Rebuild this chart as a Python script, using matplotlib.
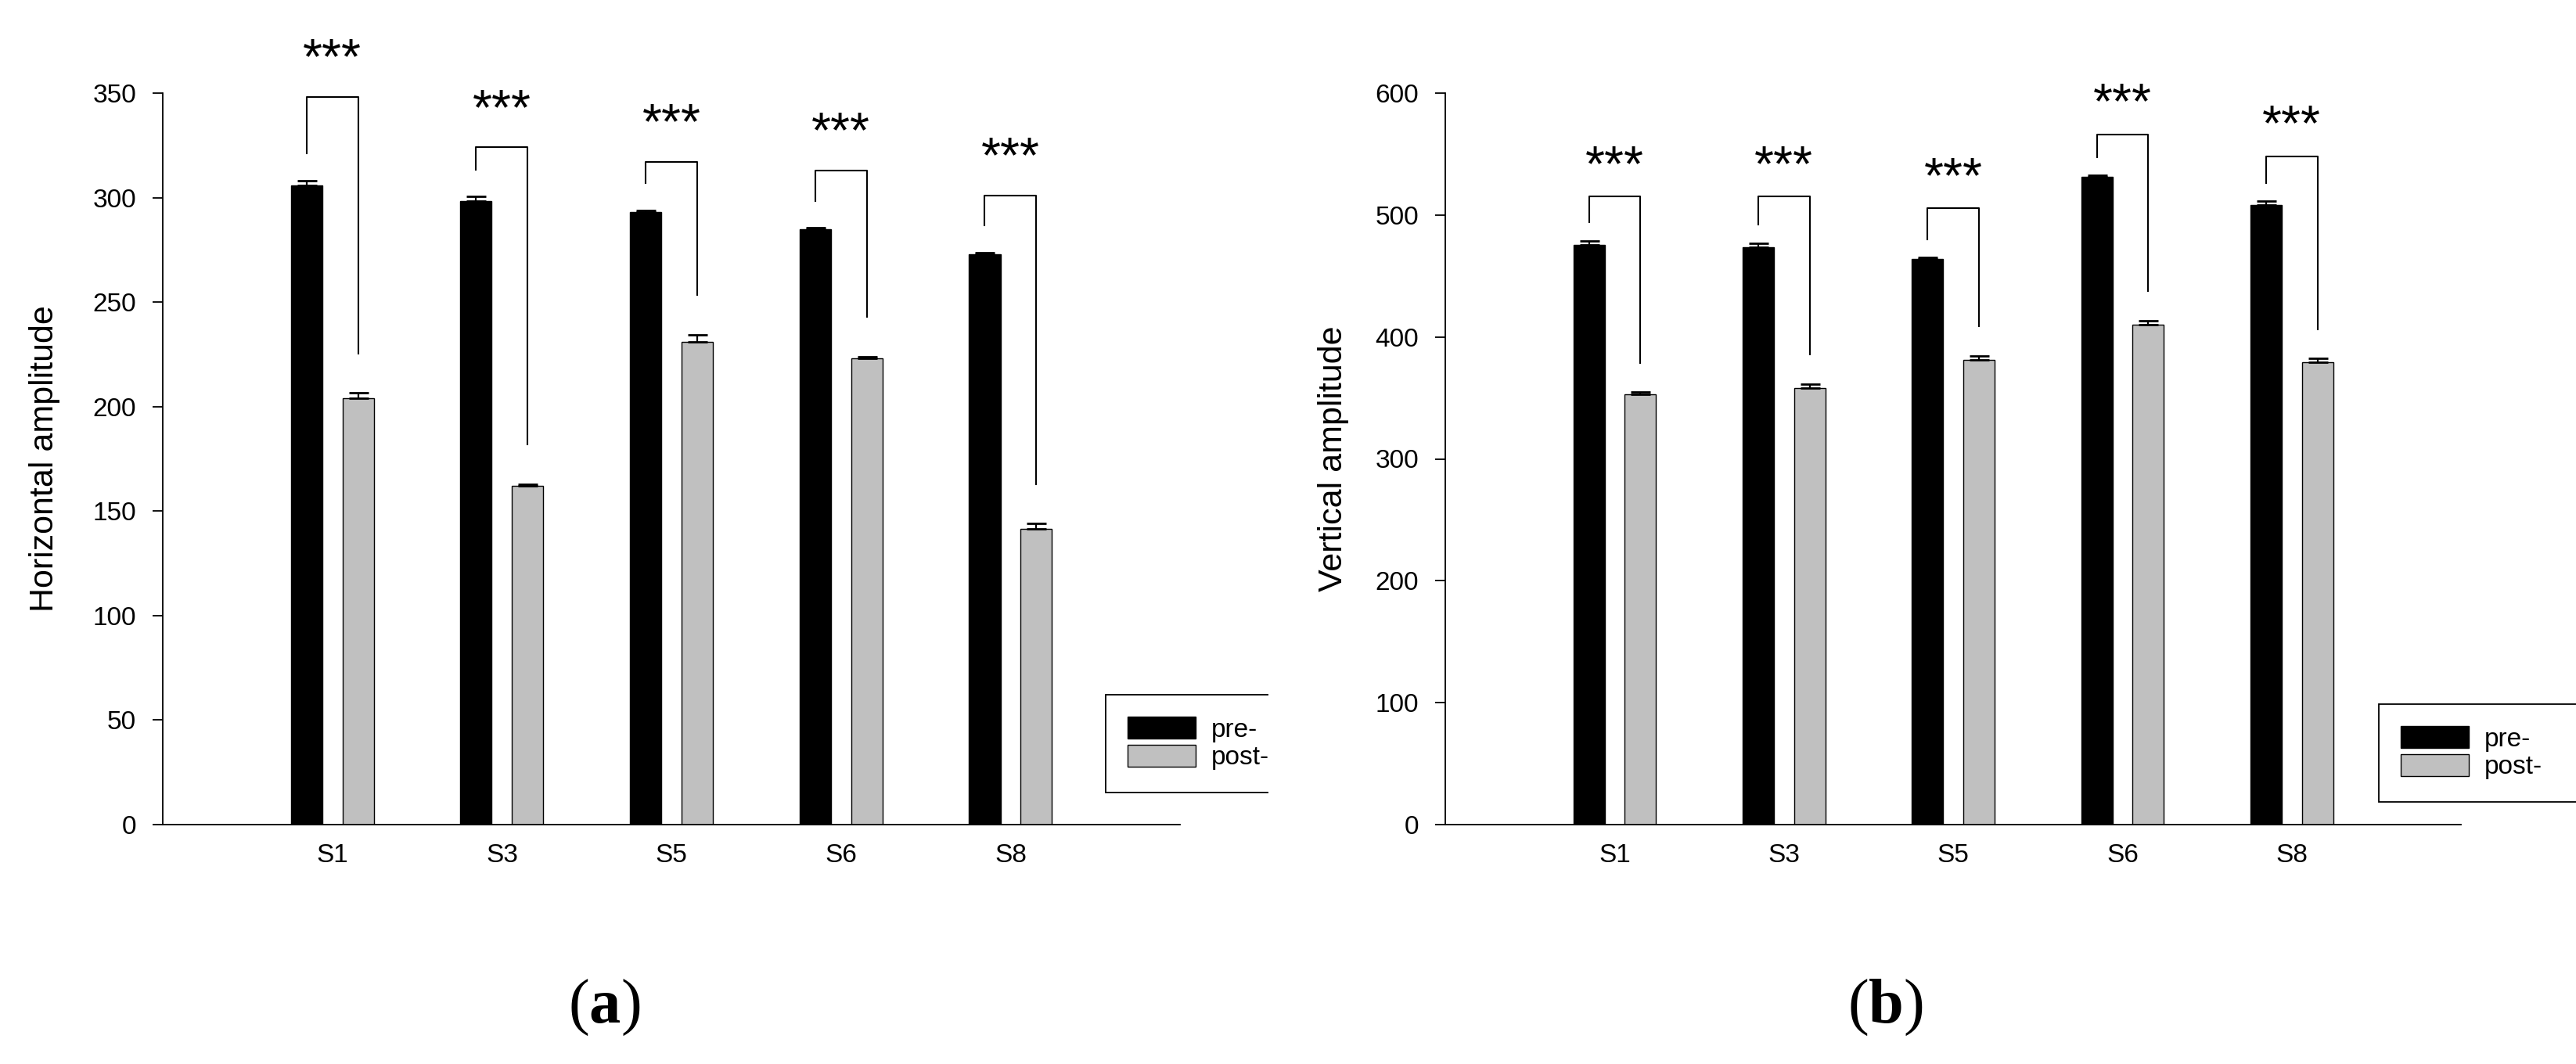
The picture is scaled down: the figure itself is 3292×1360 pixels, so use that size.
import matplotlib
matplotlib.use("Agg")
import matplotlib.pyplot as plt
import numpy as np
from matplotlib.transforms import Bbox, TransformedBbox

plt.rcParams['font.family'] = ['Liberation Sans', 'DejaVu Sans']
plt.rcParams['mathtext.fontset'] = 'custom'
plt.rcParams['mathtext.rm'] = 'Liberation Serif'
plt.rcParams['mathtext.bf'] = 'Liberation Serif:bold'

subjects = ['S1', 'S3', 'S5', 'S6', 'S8']

# (a) horizontal amplitude
h_pre = [306, 298.5, 293, 285, 273]
h_pre_err = [2, 2, 0.8, 0.5, 0.8]
h_post = [204, 162, 231, 223, 141.5]
h_post_err = [2.5, 1, 3.5, 1, 2.5]
h_bracket = [348, 324, 317, 313, 301]

# (b) vertical amplitude
v_pre = [475.5, 473.5, 464, 531.5, 508]
v_pre_err = [3.5, 3.5, 1.2, 1, 3.5]
v_post = [353, 358, 381, 410, 379]
v_post_err = [1.8, 3.5, 3.5, 3.5, 3.5]
v_bracket = [515, 515, 505.5, 566, 548]

fig = plt.figure(figsize=(32.92, 13.6), dpi=100)
ax1 = fig.add_axes([0.0632, 0.225, 0.3949, 0.6875])
ax2 = fig.add_axes([0.5611, 0.225, 0.3943, 0.6875])

w = 0.185
off = 0.152


def panel(ax, pre, pre_err, post, post_err, tops, ymax, step, ylabel,
          gaps, star_off, label_x, leg_box, clip_x):
    x = np.arange(len(subjects))
    ekw = dict(elinewidth=1.6, capthick=2, ecolor='black')
    ax.bar(x - off, pre, w, yerr=[np.zeros(len(pre)), pre_err], capsize=9,
           color='black', edgecolor='black', linewidth=1, error_kw=ekw,
           label='pre-')
    ax.bar(x + off, post, w, yerr=[np.zeros(len(post)), post_err], capsize=9,
           color='#c0c0c0', edgecolor='black', linewidth=1, error_kw=ekw,
           label='post-')
    for i in range(len(subjects)):
        y1 = pre[i] + pre_err[i] + gaps[0]
        y2 = post[i] + post_err[i] + gaps[1]
        ax.plot([x[i] - off, x[i] - off, x[i] + off, x[i] + off],
                [y1, tops[i], tops[i], y2], color='black', lw=1.5,
                clip_on=False)
        ax.text(x[i], tops[i] + star_off, '***', ha='center', va='center',
                fontsize=46, clip_on=False)
    ax.set_xlim(-1, 5)
    ax.set_ylim(0, ymax)
    ax.set_yticks(np.arange(0, ymax + 1, step))
    ax.set_xticks(x)
    ax.set_xticklabels(subjects)
    ax.tick_params(axis='y', direction='out', length=9.5, width=1.3,
                   labelsize=24, pad=15)
    ax.tick_params(axis='x', length=0, labelsize=24, pad=17)
    for s in ['top', 'right']:
        ax.spines[s].set_visible(False)
    for s in ['left', 'bottom']:
        ax.spines[s].set_linewidth(1.3)
    ax.set_ylabel(ylabel, fontsize=31)
    ax.yaxis.set_label_coords(label_x, 0.5)
    leg = ax.legend(loc='upper left', bbox_to_anchor=leg_box, mode='expand',
                    bbox_transform=fig.transFigure, fontsize=24,
                    frameon=True, fancybox=False, edgecolor='black',
                    framealpha=1, handlelength=2.6, handleheight=0.9,
                    handletextpad=0.6, labelspacing=0.1, borderpad=0.85,
                    borderaxespad=0)
    leg.get_frame().set_linewidth(1.3)
    clip = TransformedBbox(Bbox([[0, 0], [clip_x, 1]]), fig.transFigure)
    for a in leg.findobj():
        a.set_clip_box(clip)
        a.set_clip_on(True)


panel(ax1, h_pre, h_pre_err, h_post, h_post_err, h_bracket, 350, 50,
      'Horizontal amplitude', (13, 19), 17.5, -0.101,
      (0.4292, 0.2471, 0.08, 0.1), 0.4924)
panel(ax2, v_pre, v_pre_err, v_post, v_post_err, v_bracket, 600, 100,
      'Vertical amplitude', (15, 24), 24, -0.095,
      (0.9235, 0.2382, 0.1, 0.1), 1.0)

fig.text(0.2345, 0.053, r'($\mathbf{a}$)', ha='center', va='center',
         fontsize=58, family='Liberation Serif')
fig.text(0.732, 0.053, r'($\mathbf{b}$)', ha='center', va='center',
         fontsize=58, family='Liberation Serif')

fig.savefig('out.png', dpi=100, facecolor='white')
